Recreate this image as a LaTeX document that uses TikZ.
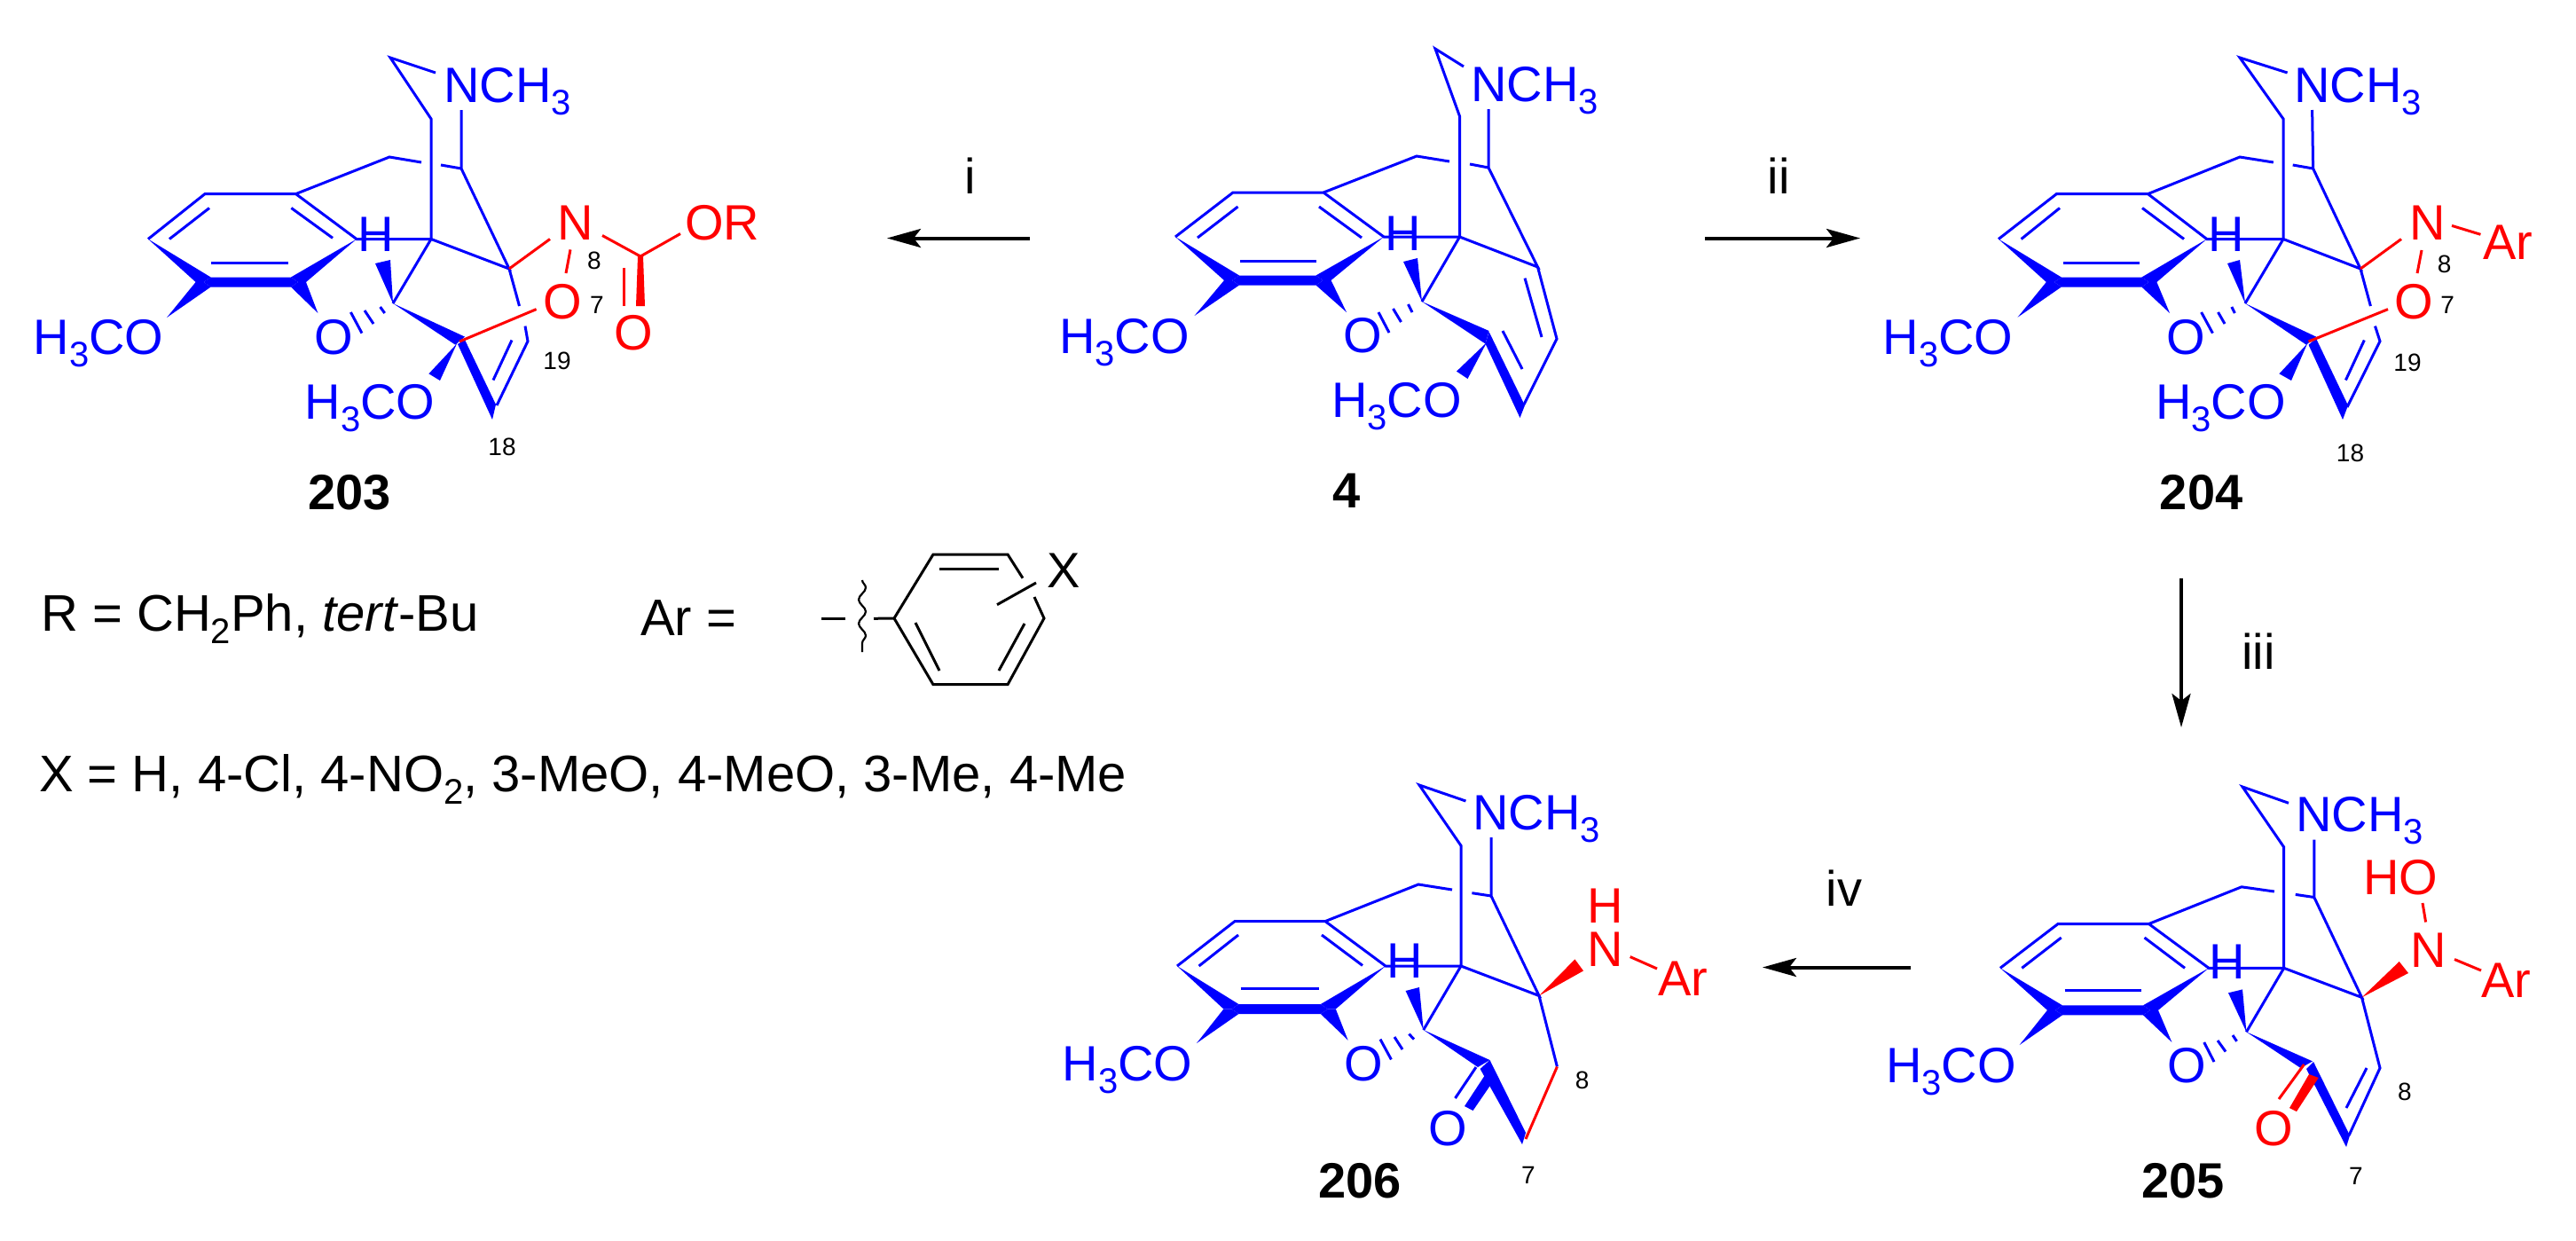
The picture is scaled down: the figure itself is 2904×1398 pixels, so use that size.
\documentclass[tikz,border=0pt]{standalone}
\usepackage{fontspec}
\setmainfont{Liberation Sans}
\usetikzlibrary{calc,arrows.meta,decorations.pathmorphing}
\definecolor{mblue}{RGB}{0,0,255}
\definecolor{mred}{RGB}{255,0,0}
\newcommand\Lab{\fontsize{56}{60}\selectfont}
\newcommand\Leg{\fontsize{58}{62}\selectfont}
\newcommand\Sml{\fontsize{28}{30}\selectfont}
\newcommand\sbs[1]{\raisebox{-14pt}{\fontsize{40}{40}\selectfont #1}}
\newcommand\atoms[2]{\foreach \n/\x/\y in {#2}{\coordinate (#1-\n) at (\x,\y);}}
\tikzset{
  bl/.style={draw=mblue,line width=3pt},
  rd/.style={draw=mred,line width=3pt},
  bk/.style={draw=black,line width=3pt},
  bf/.style={fill=mblue},
  rf/.style={fill=mred},
  txt/.style={inner sep=0pt,font=\Lab,anchor=base},
  btxt/.style={txt,text=mblue},
  rtxt/.style={txt,text=mred},
  sml/.style={inner sep=0pt,font=\Sml,anchor=base,text=black},
  cpd/.style={inner sep=0pt,font=\Lab\bfseries,anchor=base,text=black},
  leg/.style={inner sep=0pt,font=\Leg,anchor=base west,text=black},
  rxn/.style={draw=black,line width=4pt,-{Stealth[length=38pt,width=21pt,inset=8pt]}},
}
% common morphinan skeleton
\newcommand\core[1]{%
  \draw[bl] (#1-ne)--(#1-t)--(#1-c15)--(#1-c13)--(#1-a4)--(#1-a1)--(#1-a2)--(#1-a3);
  \draw[bl] (#1-nb)--(#1-c9)--(#1-c14)--(#1-c13)--(#1-c5);
  \draw[bl] (#1-a1)--(#1-c10)--(#1-g1);
  \draw[bl] (#1-g2)--(#1-c9);
  \draw[bl] (#1-i1a)--(#1-i1b);
  \draw[bl] (#1-i2a)--(#1-i2b);
  \draw[bl] (#1-i3a)--(#1-i3b);
  \fill[bf] (#1-a3)--($(#1-fl)+(-9,0)$)--(#1-fl)--($(#1-fl)+(8,-5.5)$)--cycle;
  \fill[bf] ($(#1-fl)+(-9,0)$)--(#1-fl)--($(#1-fl)+(8,5.5)$)--(#1-tm)--cycle;
  \fill[bf] (#1-fl)--($(#1-fl)+(8,-5.5)$)--($(#1-fr)+(-8,-5.5)$)--(#1-fr)--($(#1-fr)+(-8,5.5)$)--($(#1-fl)+(8,5.5)$)--cycle;
  \fill[bf] (#1-a4)--($(#1-fr)+(9,0)$)--(#1-fr)--($(#1-fr)+(-8,-5.5)$)--cycle;
  \fill[bf] ($(#1-fr)+(9,0)$)--(#1-fr)--($(#1-fr)+(-8,5.5)$)--(#1-to)--cycle;
  \fill[bf] (#1-c5)--(#1-hw1)--(#1-hw2)--cycle;
  \fill[bf] (#1-c5)--(#1-w1)--(#1-w2)--cycle;
  \fill[bf] (#1-q1)--(#1-q2)--(#1-q3)--(#1-q4)--cycle;
  \draw[mblue,line width=3pt] (#1-h1a)--(#1-h1b) (#1-h2a)--(#1-h2b) (#1-h3a)--(#1-h3b);
}
\begin{document}
\begin{tikzpicture}[x=1pt,y=-1pt]
\useasboundingbox (0,0) rectangle (2904,1398);
\fill[white] (0,0) rectangle (2904,1398);
%%%%%%%%%% 203
\atoms{A}{t/440/65,ne/491/82,c15/486/134,nb/520/124,c9/520/190,c10/439/177,g1/475/183,g2/497/186,
a1/333.5/218.6,a2/231/218.6,a3/167/269.5,a4/402/269.5,c13/486/269.5,c14/574/303,c5/443/342,c6/518/385,
fl/229.6/318,fr/336/318,tm/188/358,to/358.4/353,
i1a/236/234.5,i1b/191/269.5,i2a/328.4/234.5,i2b/375/268.3,i3a/238/296,i3b/325/296,
hw1/423/297,hw2/440/293,w1/524/379.6,w2/513.4/388.7,
h1a/395.4/352,h1b/408/375.6,h2a/411/350,h2b/421/365,h3a/428.6/346,h3b/433.7/353,
q1/516/388,q2/524/383,q3/559/456,q4/555/473,
k/560/457,d/595/384.7,e1/585.5/345,e2/592/367.6,j1/577/383.5,j2/556/428.5,
y1/483.4/421.3,y2/496/429,y3/515/387.5,
nr/620/269.5,no1/643/281.4,no2/638/308,ox/604.6/348.6,cc/722/289,nc/679/265.5,cr/767/263.5,
cb1/719/289,cb2/725/289,cb3/727/345,cb4/717/345,ct1/703/302,ct2/703/345}
\core{A}
\draw[bl] (A-k)--(A-d)--(A-e2);
\draw[bl] (A-c14)--(A-e1);
\draw[bl] (A-j1)--(A-j2);
\fill[bf] (A-y1)--(A-y2)--(A-y3)--cycle;
\draw[rd] (A-c14)--(A-nr);
\draw[rd] (A-no1)--(A-no2);
\draw[rd] (A-ox)--(A-c6);
\draw[rd] (A-nc)--(A-cc)--(A-cr);
\fill[rf] (A-cb1)--(A-cb2)--(A-cb3)--(A-cb4)--cycle;
\draw[rd] (A-ct1)--(A-ct2);
\node[btxt,anchor=base west] (A-me1) at (37.5,399.5) {H\sbs{3}CO};
\node[btxt,anchor=base west] (A-me2) at (343.6,472) {H\sbs{3}CO};
\node[btxt,anchor=base west] (A-nch) at (500,115) {NCH\sbs{3}};
\node[btxt] (A-O) at (376,399) {O};
\node[btxt] (A-H) at (423.5,283.4) {H};
\node[rtxt] (A-N) at (649,270) {N};
\node[rtxt] (A-O7) at (634.5,359) {O};
\node[rtxt,anchor=base west] (A-OR) at (772,270) {OR};
\node[rtxt] (A-Oc) at (714,394.7) {O};
\node[sml] (A-8) at (670,303) {8};
\node[sml] (A-7) at (673,353) {7};
\node[sml] (A-19) at (628,416) {19};
\node[sml] (A-18) at (566,513.5) {18};
\node[cpd] (A-lab) at (394,574) {203};
%%%%%%%%%% 4
\atoms{B}{t/1618/55,ne/1650/75,c15/1645.5/131,nb/1678/123,c9/1678/189,c10/1597/176,g1/1634/182,g2/1657/185,
a1/1492/217,a2/1390/217,a3/1325/267,a4/1560/267,c13/1645.5/267,c14/1733.5/301,c5/1603/340,c6/1677/379,
fl/1389/316,fr/1491.5/316,tm/1346.5/356,to/1518/352,
i1a/1395.5/233,i1b/1350/268,i2a/1487/233,i2b/1535/268,i3a/1398/294,i3b/1484/294,
hw1/1582/295,hw2/1598/291,w1/1678.6/373,w2/1674.5/387.5,
h1a/1554/352,h1b/1566/375,h2a/1570.5/348,h2b/1579.5/363,h3a/1587.5/343,h3b/1592/352,
q1/1678.6/374,q2/1674.5/387.5,q3/1713.5/471,q4/1719/457,
k/1718/456,d/1755/382,j1/1719/313.6,j2/1738/380,j3/1694/373,j4/1716/416,
y1/1642/418.6,y2/1654.5/427,y3/1676/386}
\core{B}
\draw[bl] (B-k)--(B-d)--(B-c14);
\draw[bl] (B-j1)--(B-j2);
\draw[bl] (B-j3)--(B-j4);
\fill[bf] (B-y1)--(B-y2)--(B-y3)--cycle;
\node[btxt,anchor=base west] (B-me1) at (1194,398) {H\sbs{3}CO};
\node[btxt,anchor=base west] (B-me2) at (1501,470) {H\sbs{3}CO};
\node[btxt,anchor=base west] (B-nch) at (1658,114) {NCH\sbs{3}};
\node[btxt] (B-O) at (1536,397) {O};
\node[btxt] (B-H) at (1582,282) {H};
\node[cpd] (B-lab) at (1518,572) {4};
%%%%%%%%%% 204
\atoms{C}{t/2525/65,ne/2578.6/82,c15/2574/134,nb/2606.6/124,c9/2607.6/190,c10/2525/177,g1/2562.8/183,g2/2584.7/186,
a1/2421.4/218.6,a2/2318.4/218.6,a3/2253/269.5,a4/2487.8/269.5,c13/2574/269.5,c14/2661/303,c5/2531/342,c6/2604/385,
fl/2315.8/318,fr/2422.4/318,tm/2274.5/357.7,to/2446/353,
i1a/2322/234.5,i1b/2278.6/269.5,i2a/2415/234.5,i2b/2462/269.5,i3a/2326/296,i3b/2412/296,
hw1/2511/297,hw2/2525/293,w1/2611/379.6,w2/2600/388.7,
h1a/2481.6/352,h1b/2494.4/375.6,h2a/2500.5/352,h2b/2508/365,h3a/2515.8/346,h3b/2519.4/353,
q1/2602.5/388.7,q2/2611/381.6,q3/2647/457,q4/2641/473,
k/2646/459,d/2683/384.7,e1/2672.4/345,e2/2677.5/367.6,j1/2665.3/383.5,j2/2644.4/428.5,
y1/2569.4/421.3,y2/2583/429,y3/2601/387.5,
nr/2707/269.5,no1/2730/282,no2/2725/308,ox/2692/348.6,oc/2602.5/385,na1/2764/254.4,na2/2796.4/264.3}
\core{C}
\draw[bl] (C-k)--(C-d)--(C-e2);
\draw[bl] (C-c14)--(C-e1);
\draw[bl] (C-j1)--(C-j2);
\fill[bf] (C-y1)--(C-y2)--(C-y3)--cycle;
\draw[rd] (C-c14)--(C-nr);
\draw[rd] (C-no1)--(C-no2);
\draw[rd] (C-ox)--(C-oc);
\draw[rd] (C-na1)--(C-na2);
\node[btxt,anchor=base west] (C-me1) at (2122.5,399.5) {H\sbs{3}CO};
\node[btxt,anchor=base west] (C-me2) at (2430,472) {H\sbs{3}CO};
\node[btxt,anchor=base west] (C-nch) at (2586,115) {NCH\sbs{3}};
\node[btxt] (C-O) at (2463.8,399) {O};
\node[btxt] (C-H) at (2509.7,283.4) {H};
\node[rtxt] (C-N) at (2736.7,270) {N};
\node[rtxt] (C-O7) at (2721,359) {O};
\node[rtxt,anchor=base west] (C-Ar) at (2799,292) {Ar};
\node[sml] (C-8) at (2755.6,307) {8};
\node[sml] (C-7) at (2759,353) {7};
\node[sml] (C-19) at (2714,418) {19};
\node[sml] (C-18) at (2649.5,520.7) {18};
\node[cpd] (C-lab) at (2481.6,574) {204};
%%%%%%%%%% 205
\atoms{D}{t/2528/887,ne/2580/905.3,c15/2574.7/955,nb/2608.8/946.5,c9/2608.8/1011.5,c10/2527/999.8,g1/2563.8/1005,g2/2587.7/1008.4,
a1/2422.4/1041.5,a2/2320/1041.5,a3/2254.9/1091.3,a4/2490/1091.3,c13/2574.7/1091.3,c14/2662.5/1124.4,c5/2532.4/1163.3,c6/2607/1197,
fl/2317/1138.8,fr/2424/1138.8,tm/2276.6/1178,to/2448.4/1175,
i1a/2323.7/1057,i1b/2279.3/1091.3,i2a/2417.5/1057,i2b/2463/1091.3,i3a/2327.5/1116.6,i3b/2414/1116.6,
hw1/2512/1119.3,hw2/2528/1115.4,w1/2607/1196.4,w2/2593.6/1204,
h1a/2484.7/1175,h1b/2496/1197,h2a/2500/1173,h2b/2509/1185.5,h3a/2517/1167,h3b/2521.5/1173.8,
q1/2608/1197,q2/2600/1205,q3/2645/1293,q4/2649/1280,
k/2648/1280,d/2683/1204,j1/2668/1204,j2/2645/1249,
cb1/2603/1211,cb2/2613.7/1215,cb3/2589/1253,cb4/2581/1249,ct1/2597.4/1200,ct2/2569/1239,
hn1/2731/1018,hn2/2734.6/1039.5,rw1/2704.7/1084,rw2/2715/1097,na1/2767/1081.5,na2/2797/1094}
\core{D}
\draw[bl] (D-k)--(D-d)--(D-c14);
\draw[bl] (D-j1)--(D-j2);
\fill[rf] (D-cb1)--(D-cb2)--(D-cb3)--(D-cb4)--cycle;
\draw[rd] (D-ct1)--(D-ct2);
\draw[rd] (D-hn1)--(D-hn2);
\fill[rf] (D-c14)--(D-rw1)--(D-rw2)--cycle;
\draw[rd] (D-na1)--(D-na2);
\node[btxt,anchor=base west] (D-me1) at (2126,1220.5) {H\sbs{3}CO};
\node[btxt,anchor=base west] (D-nch) at (2588,937.6) {NCH\sbs{3}};
\node[btxt] (D-O) at (2465.7,1220) {O};
\node[btxt] (D-H) at (2510.7,1103.7) {H};
\node[rtxt] (D-Oc) at (2563,1291.7) {O};
\node[rtxt,anchor=base west] (D-HO) at (2664,1008.4) {HO};
\node[rtxt] (D-N) at (2738,1090) {N};
\node[rtxt,anchor=base west] (D-Ar) at (2797,1124.4) {Ar};
\node[sml] (D-8) at (2711,1240) {8};
\node[sml] (D-7) at (2656,1335.7) {7};
\node[cpd] (D-lab) at (2461,1350) {205};
%%%%%%%%%% 206
\atoms{E}{t/1600/885,ne/1652.4/903,c15/1647/953.3,nb/1681/944,c9/1681/1010,c10/1599/997,g1/1637/1003,g2/1659.4/1006.7,
a1/1494/1038.6,a2/1392/1038.6,a3/1327/1089,a4/1562/1089,c13/1647/1089,c14/1735/1122.5,c5/1604.7/1161,c6/1678.4/1195,
fl/1388.4/1137.5,fr/1496.8/1137.5,tm/1349/1176,to/1519.6/1172.6,
i1a/1396/1054,i1b/1351.6/1089,i2a/1490/1054,i2b/1536/1088.4,i3a/1398.7/1114.4,i3b/1487/1114.4,
hw1/1584.6/1117,hw2/1600/1113,w1/1679.5/1195,w2/1666/1203,
h1a/1556/1171.6,h1b/1568.4/1194.4,h2a/1572/1169,h2b/1581/1183,h3a/1588.4/1165.6,h3b/1594/1171.6,
q1/1679.5/1195,q2/1668.6/1205,q3/1716/1290,q4/1720/1277,
k/1720/1284,d/1755.4/1202.5,
cb1/1674/1212,cb2/1682/1220.7,cb3/1660.5/1252,cb4/1651/1247,ct1/1664/1203,ct2/1640.5/1238,
rw1/1775.4/1081.4,rw2/1785/1094.4,na1/1837.7/1078.6,na2/1868/1092}
\core{E}
\draw[bl] (E-c14)--(E-d);
\draw[rd] (E-d)--(E-k);
\fill[bf] (E-cb1)--(E-cb2)--(E-cb3)--(E-cb4)--cycle;
\draw[bl] (E-ct1)--(E-ct2);
\fill[rf] (E-c14)--(E-rw1)--(E-rw2)--cycle;
\draw[rd] (E-na1)--(E-na2);
\node[btxt,anchor=base west] (E-me1) at (1197.4,1218) {H\sbs{3}CO};
\node[btxt,anchor=base west] (E-nch) at (1660,935.4) {NCH\sbs{3}};
\node[btxt] (E-O) at (1537.5,1218) {O};
\node[btxt] (E-H) at (1583.5,1102.5) {H};
\node[btxt] (E-Oc) at (1632,1291) {O};
\node[rtxt] (E-Hn) at (1809.6,1040.7) {H};
\node[rtxt] (E-N) at (1809.6,1089) {N};
\node[rtxt,anchor=base west] (E-Ar) at (1869,1122.5) {Ar};
\node[sml] (E-8) at (1783.6,1227.7) {8};
\node[sml] (E-7) at (1723,1334.7) {7};
\node[cpd] (E-lab) at (1533,1350.5) {206};
%%%%%%%%%% arrows
\coordinate (r1a) at (1161,268.5); \coordinate (r1b) at (1000,268.5);
\coordinate (r2a) at (1922,268.5); \coordinate (r2b) at (2097,268.5);
\coordinate (r3a) at (2459,652); \coordinate (r3b) at (2459,820);
\coordinate (r4a) at (2154,1090.5); \coordinate (r4b) at (1987,1090.5);
\draw[rxn] (r1a)--(r1b);
\draw[rxn] (r2a)--(r2b);
\draw[rxn] (r3a)--(r3b);
\draw[rxn] (r4a)--(r4b);
\node[txt] (ri) at (1094,218) {i};
\node[txt] (rii) at (2005,218) {ii};
\node[txt] (riii) at (2546,754) {iii};
\node[txt] (riv) at (2079,1021) {iv};
%%%%%%%%%% legend
\node[leg] (lR) at (46,711.7) {R = CH\sbs{2}Ph, \textit{tert}-Bu};
\node[leg] (lAr) at (722,716.7) {Ar =};
\node[leg] (lX) at (44,892.7) {X = H, 4-Cl, 4-NO\sbs{2}, 3-MeO, 4-MeO, 3-Me, 4-Me};
\atoms{R}{p/1008/697,q/1052/625,r/1136/625,s/1177/697,u/1136/771.7,v/1052/771.7,
s1/1153/651.7,s2/1166/673,x1/1168/657,x2/1124/681.7,
a1/1059/641,a2/1126/641,b1/1032/702,b2/1059/756,c1/1155/703,c2/1126/756,
l1/926/697.3,l2/953/697.3,l3/985/697.3,wa/972/654,wb/972/735}
\draw[bk] (R-s1)--(R-r)--(R-q)--(R-p)--(R-v)--(R-u)--(R-s)--(R-s2);
\draw[bk] (R-x1)--(R-x2);
\draw[bk] (R-a1)--(R-a2);
\draw[bk] (R-b1)--(R-b2);
\draw[bk] (R-c1)--(R-c2);
\draw[bk] (R-l1)--(R-l2);
\draw[bk] (R-l3)--(R-p);
\draw[draw=black,line width=2.2pt,decorate,decoration={snake,amplitude=4pt,segment length=27pt}] (R-wa)--(R-wb);
\node[txt] (RX) at (1199.5,662.7) {X};
\end{tikzpicture}
\end{document}
